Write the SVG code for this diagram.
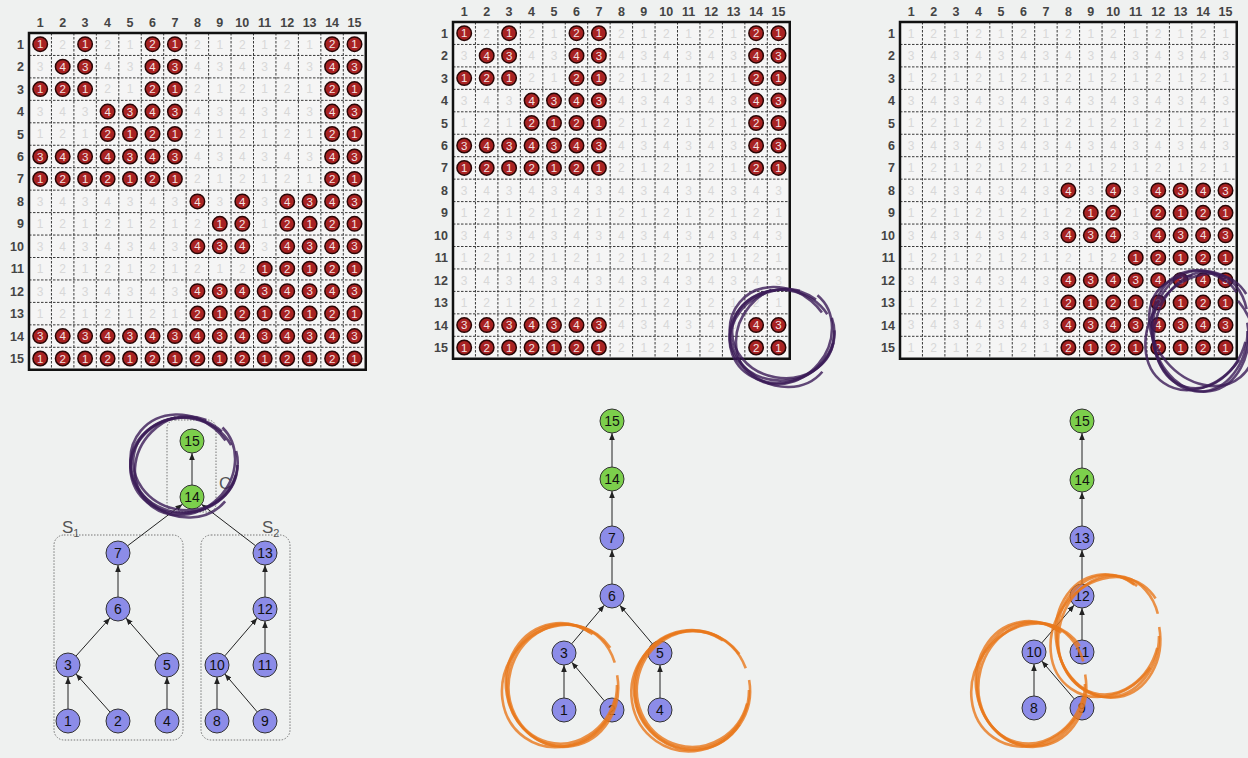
<svg xmlns="http://www.w3.org/2000/svg" xmlns:xlink="http://www.w3.org/1999/xlink" width="1248" height="758" viewBox="0 0 1248 758">
<style>
.gn{font-family:"Liberation Sans",Arial,sans-serif;font-size:12px;fill:#d8d8d8;text-anchor:middle}
.lb{font-family:"Liberation Sans",Arial,sans-serif;font-size:12.5px;font-weight:bold;fill:#444}
.wn{font-family:"Liberation Sans",Arial,sans-serif;font-size:11.5px;fill:#f4e2e2;text-anchor:middle}
.gd{fill:none;stroke:#3a3a3a;stroke-width:1;stroke-dasharray:2.5 1.5}
.bd{fill:none;stroke:#111;stroke-width:2.5}
.dk{fill:none;stroke:#2a0606;stroke-width:16;stroke-linecap:round}
.dr{fill:none;stroke:#a82222;stroke-width:13;stroke-linecap:round}
.nd circle{stroke:#333;stroke-width:1}
.nd text{font-family:"Liberation Sans",Arial,sans-serif;font-size:14px;fill:#111;text-anchor:middle}
.pu circle{fill:#8c8ce8}
.gr circle{fill:#7ccf4c}
.ed line{stroke:#222;stroke-width:1;marker-end:url(#ar)}
.bx{fill:none;stroke:#777;stroke-width:1;stroke-dasharray:1.5 1.5}
.sl{font-family:"Liberation Sans",Arial,sans-serif;font-size:17px;fill:#555}
.sp ellipse{fill:none;stroke:#3b1b58;stroke-width:2.6;opacity:.8}
.so ellipse{fill:none;stroke:#e8781c;stroke-width:2.6;opacity:.8}
</style>
<defs>
<marker id="ar" viewBox="0 0 8 8" refX="8" refY="4" markerWidth="7" markerHeight="7" orient="auto" markerUnits="userSpaceOnUse"><path d="M0 0.8L8 4L0 7.2z" fill="#222"/></marker>
<g id="base">
<rect width="336.75" height="336.75" fill="#f5f5f5"/>
<g class="gn">
<text x="11.2 33.7 56.1 78.6 101 123.5 145.9 168.4 190.8 213.3 235.7 258.2 280.6 303.1 325.5" y="15.5">121212121212121</text>
<text x="11.2 33.7 56.1 78.6 101 123.5 145.9 168.4 190.8 213.3 235.7 258.2 280.6 303.1 325.5" y="38">343434343434343</text>
<text x="11.2 33.7 56.1 78.6 101 123.5 145.9 168.4 190.8 213.3 235.7 258.2 280.6 303.1 325.5" y="60.4">121212121212121</text>
<text x="11.2 33.7 56.1 78.6 101 123.5 145.9 168.4 190.8 213.3 235.7 258.2 280.6 303.1 325.5" y="82.9">343434343434343</text>
<text x="11.2 33.7 56.1 78.6 101 123.5 145.9 168.4 190.8 213.3 235.7 258.2 280.6 303.1 325.5" y="105.3">121212121212121</text>
<text x="11.2 33.7 56.1 78.6 101 123.5 145.9 168.4 190.8 213.3 235.7 258.2 280.6 303.1 325.5" y="127.8">343434343434343</text>
<text x="11.2 33.7 56.1 78.6 101 123.5 145.9 168.4 190.8 213.3 235.7 258.2 280.6 303.1 325.5" y="150.2">121212121212121</text>
<text x="11.2 33.7 56.1 78.6 101 123.5 145.9 168.4 190.8 213.3 235.7 258.2 280.6 303.1 325.5" y="172.7">343434343434343</text>
<text x="11.2 33.7 56.1 78.6 101 123.5 145.9 168.4 190.8 213.3 235.7 258.2 280.6 303.1 325.5" y="195.1">121212121212121</text>
<text x="11.2 33.7 56.1 78.6 101 123.5 145.9 168.4 190.8 213.3 235.7 258.2 280.6 303.1 325.5" y="217.6">343434343434343</text>
<text x="11.2 33.7 56.1 78.6 101 123.5 145.9 168.4 190.8 213.3 235.7 258.2 280.6 303.1 325.5" y="240">121212121212121</text>
<text x="11.2 33.7 56.1 78.6 101 123.5 145.9 168.4 190.8 213.3 235.7 258.2 280.6 303.1 325.5" y="262.5">343434343434343</text>
<text x="11.2 33.7 56.1 78.6 101 123.5 145.9 168.4 190.8 213.3 235.7 258.2 280.6 303.1 325.5" y="284.9">121212121212121</text>
<text x="11.2 33.7 56.1 78.6 101 123.5 145.9 168.4 190.8 213.3 235.7 258.2 280.6 303.1 325.5" y="307.4">343434343434343</text>
<text x="11.2 33.7 56.1 78.6 101 123.5 145.9 168.4 190.8 213.3 235.7 258.2 280.6 303.1 325.5" y="329.8">121212121212121</text>
</g>
<path class="gd" d="M22.45 0V336.75M44.9 0V336.75M67.35 0V336.75M89.8 0V336.75M112.25 0V336.75M134.7 0V336.75M157.15 0V336.75M179.6 0V336.75M202.05 0V336.75M224.5 0V336.75M246.95 0V336.75M269.4 0V336.75M291.85 0V336.75M314.3 0V336.75M0 22.45H336.75M0 44.9H336.75M0 67.35H336.75M0 89.8H336.75M0 112.25H336.75M0 134.7H336.75M0 157.15H336.75M0 179.6H336.75M0 202.05H336.75M0 224.5H336.75M0 246.95H336.75M0 269.4H336.75M0 291.85H336.75M0 314.3H336.75"/>
<rect class="bd" width="336.75" height="336.75"/>
<text class="lb" y="-6" text-anchor="middle"><tspan x="11.2">1</tspan><tspan x="33.7">2</tspan><tspan x="56.1">3</tspan><tspan x="78.6">4</tspan><tspan x="101">5</tspan><tspan x="123.5">6</tspan><tspan x="145.9">7</tspan><tspan x="168.4">8</tspan><tspan x="190.8">9</tspan><tspan x="213.3">10</tspan><tspan x="235.7">11</tspan><tspan x="258.2">12</tspan><tspan x="280.6">13</tspan><tspan x="303.1">14</tspan><tspan x="325.5">15</tspan></text>
<text class="lb" text-anchor="end"><tspan x="-5" y="15.7">1</tspan><tspan x="-5" y="38.2">2</tspan><tspan x="-5" y="60.6">3</tspan><tspan x="-5" y="83.1">4</tspan><tspan x="-5" y="105.5">5</tspan><tspan x="-5" y="128">6</tspan><tspan x="-5" y="150.4">7</tspan><tspan x="-5" y="172.9">8</tspan><tspan x="-5" y="195.3">9</tspan><tspan x="-5" y="217.8">10</tspan><tspan x="-5" y="240.2">11</tspan><tspan x="-5" y="262.7">12</tspan><tspan x="-5" y="285.1">13</tspan><tspan x="-5" y="307.6">14</tspan><tspan x="-5" y="330">15</tspan></text>
</g>
<path id="pA" d="M11.2 11.2h0M56.1 11.2h0M123.5 11.2h0M145.9 11.2h0M33.7 33.7h0M56.1 33.7h0M123.5 33.7h0M145.9 33.7h0M11.2 56.1h0M33.7 56.1h0M56.1 56.1h0M123.5 56.1h0M145.9 56.1h0M78.6 78.6h0M101 78.6h0M123.5 78.6h0M145.9 78.6h0M78.6 101h0M101 101h0M123.5 101h0M145.9 101h0M11.2 123.5h0M33.7 123.5h0M56.1 123.5h0M78.6 123.5h0M101 123.5h0M123.5 123.5h0M145.9 123.5h0M11.2 145.9h0M33.7 145.9h0M56.1 145.9h0M78.6 145.9h0M101 145.9h0M123.5 145.9h0M145.9 145.9h0"/>
<path id="pB" d="M303.1 11.2h0M325.5 11.2h0M303.1 33.7h0M325.5 33.7h0M303.1 56.1h0M325.5 56.1h0M303.1 78.6h0M325.5 78.6h0M303.1 101h0M325.5 101h0M303.1 123.5h0M325.5 123.5h0M303.1 145.9h0M325.5 145.9h0"/>
<path id="pC" d="M11.2 303.1h0M33.7 303.1h0M56.1 303.1h0M78.6 303.1h0M101 303.1h0M123.5 303.1h0M145.9 303.1h0M11.2 325.5h0M33.7 325.5h0M56.1 325.5h0M78.6 325.5h0M101 325.5h0M123.5 325.5h0M145.9 325.5h0"/>
<path id="pD" d="M303.1 303.1h0M325.5 303.1h0M303.1 325.5h0M325.5 325.5h0"/>
<path id="pE" d="M168.4 168.4h0M213.3 168.4h0M258.2 168.4h0M280.6 168.4h0M303.1 168.4h0M325.5 168.4h0M190.8 190.8h0M213.3 190.8h0M258.2 190.8h0M280.6 190.8h0M303.1 190.8h0M325.5 190.8h0M168.4 213.3h0M190.8 213.3h0M213.3 213.3h0M258.2 213.3h0M280.6 213.3h0M303.1 213.3h0M325.5 213.3h0M235.7 235.7h0M258.2 235.7h0M280.6 235.7h0M303.1 235.7h0M325.5 235.7h0M168.4 258.2h0M190.8 258.2h0M213.3 258.2h0M235.7 258.2h0M258.2 258.2h0M280.6 258.2h0M303.1 258.2h0M325.5 258.2h0M168.4 280.6h0M190.8 280.6h0M213.3 280.6h0M235.7 280.6h0M258.2 280.6h0M280.6 280.6h0M303.1 280.6h0M325.5 280.6h0"/>
<path id="pF" d="M168.4 303.1h0M190.8 303.1h0M213.3 303.1h0M235.7 303.1h0M258.2 303.1h0M280.6 303.1h0M168.4 325.5h0M190.8 325.5h0M213.3 325.5h0M235.7 325.5h0M258.2 325.5h0M280.6 325.5h0"/>
<g id="bA"><use href="#pA" class="dk"/><use href="#pA" class="dr"/>
<g class="wn">
<text x="11.2 56.1 123.5 145.9" y="15.3">1121</text>
<text x="33.7 56.1 123.5 145.9" y="37.8">4343</text>
<text x="11.2 33.7 56.1 123.5 145.9" y="60.2">12121</text>
<text x="78.6 101 123.5 145.9" y="82.7">4343</text>
<text x="78.6 101 123.5 145.9" y="105.1">2121</text>
<text x="11.2 33.7 56.1 78.6 101 123.5 145.9" y="127.6">3434343</text>
<text x="11.2 33.7 56.1 78.6 101 123.5 145.9" y="150">1212121</text>
</g></g>
<g id="bB"><use href="#pB" class="dk"/><use href="#pB" class="dr"/>
<g class="wn">
<text x="303.1 325.5" y="15.3">21</text>
<text x="303.1 325.5" y="37.8">43</text>
<text x="303.1 325.5" y="60.2">21</text>
<text x="303.1 325.5" y="82.7">43</text>
<text x="303.1 325.5" y="105.1">21</text>
<text x="303.1 325.5" y="127.6">43</text>
<text x="303.1 325.5" y="150">21</text>
</g></g>
<g id="bC"><use href="#pC" class="dk"/><use href="#pC" class="dr"/>
<g class="wn">
<text x="11.2 33.7 56.1 78.6 101 123.5 145.9" y="307.2">3434343</text>
<text x="11.2 33.7 56.1 78.6 101 123.5 145.9" y="329.6">1212121</text>
</g></g>
<g id="bD"><use href="#pD" class="dk"/><use href="#pD" class="dr"/>
<g class="wn">
<text x="303.1 325.5" y="307.2">43</text>
<text x="303.1 325.5" y="329.6">21</text>
</g></g>
<g id="bE"><use href="#pE" class="dk"/><use href="#pE" class="dr"/>
<g class="wn">
<text x="168.4 213.3 258.2 280.6 303.1 325.5" y="172.5">444343</text>
<text x="190.8 213.3 258.2 280.6 303.1 325.5" y="194.9">122121</text>
<text x="168.4 190.8 213.3 258.2 280.6 303.1 325.5" y="217.4">4344343</text>
<text x="235.7 258.2 280.6 303.1 325.5" y="239.8">12121</text>
<text x="168.4 190.8 213.3 235.7 258.2 280.6 303.1 325.5" y="262.3">43434343</text>
<text x="168.4 190.8 213.3 235.7 258.2 280.6 303.1 325.5" y="284.7">21212121</text>
</g></g>
<g id="bF"><use href="#pF" class="dk"/><use href="#pF" class="dr"/>
<g class="wn">
<text x="168.4 190.8 213.3 235.7 258.2 280.6" y="307.2">434343</text>
<text x="168.4 190.8 213.3 235.7 258.2 280.6" y="329.6">212121</text>
</g></g>
</defs>
<rect width="1248" height="758" fill="#eff1f0"/>

<g id="matrix1" transform="translate(29 33)">
<use href="#base"/><use href="#bA"/><use href="#bB"/><use href="#bC"/><use href="#bD"/><use href="#bE"/><use href="#bF"/>
</g>
<g id="matrix2" transform="translate(453 22)">
<use href="#base"/><use href="#bA"/><use href="#bB"/><use href="#bC"/><use href="#bD"/>
</g>
<g id="matrix3" transform="translate(900 22)">
<use href="#base"/><use href="#bD"/><use href="#bE"/><use href="#bF"/>
</g>

<g id="clusters">
<rect class="bx" x="54" y="535" width="129" height="205" rx="10"/>
<rect class="bx" x="201" y="535" width="89" height="205" rx="10"/>
<rect class="bx" x="167" y="420" width="49" height="92" rx="8"/>
<text class="sl" x="62" y="533">S<tspan font-size="11" dy="4">1</tspan></text>
<text class="sl" x="262" y="533">S<tspan font-size="11" dy="4">2</tspan></text>
<text class="sl" x="219" y="489">C</text>
</g>

<g id="connectors" class="ed">
<line x1="192" y1="485" x2="192" y2="453"/>
<line x1="127.6" y1="545.8" x2="182.4" y2="504.2"/>
<line x1="255.5" y1="545.7" x2="201.5" y2="504.3"/>
<line x1="118" y1="597" x2="118" y2="565"/>
<line x1="265" y1="597" x2="265" y2="565"/>
<line x1="76" y1="656" x2="110" y2="618"/>
<line x1="159.1" y1="656" x2="125.9" y2="618"/>
<line x1="224.8" y1="655.9" x2="257.2" y2="618.1"/>
<line x1="265" y1="653" x2="265" y2="621"/>
<line x1="68" y1="709" x2="68" y2="677"/>
<line x1="110" y1="712" x2="76" y2="674"/>
<line x1="167" y1="709" x2="167" y2="677"/>
<line x1="217" y1="709" x2="217" y2="677"/>
<line x1="257.2" y1="711.9" x2="224.8" y2="673.9"/>

<line x1="612" y1="467" x2="612" y2="433"/>
<line x1="612" y1="526" x2="612" y2="491"/>
<line x1="612" y1="584" x2="612" y2="550"/>
<line x1="571.7" y1="643.8" x2="604.3" y2="605.2"/>
<line x1="652.3" y1="643.8" x2="619.7" y2="605.2"/>
<line x1="564" y1="698" x2="564" y2="665"/>
<line x1="604.3" y1="700.8" x2="571.7" y2="662.2"/>
<line x1="660" y1="698" x2="660" y2="665"/>

<line x1="1082" y1="468" x2="1082" y2="433"/>
<line x1="1082" y1="526" x2="1082" y2="492"/>
<line x1="1082" y1="584" x2="1082" y2="550"/>
<line x1="1041.8" y1="642.9" x2="1074.2" y2="605.1"/>
<line x1="1082" y1="640" x2="1082" y2="608"/>
<line x1="1034" y1="696" x2="1034" y2="664"/>
<line x1="1074.2" y1="698.9" x2="1041.8" y2="661.1"/>
</g>

<g id="g1-15" class="nd gr"><circle cx="192" cy="441" r="12"/><text x="192" y="446">15</text></g>
<g id="g1-14" class="nd gr"><circle cx="192" cy="497" r="12"/><text x="192" y="502">14</text></g>
<g id="g1-7" class="nd pu"><circle cx="118" cy="553" r="12"/><text x="118" y="558">7</text></g>
<g id="g1-13" class="nd pu"><circle cx="265" cy="553" r="12"/><text x="265" y="558">13</text></g>
<g id="g1-6" class="nd pu"><circle cx="118" cy="609" r="12"/><text x="118" y="614">6</text></g>
<g id="g1-12" class="nd pu"><circle cx="265" cy="609" r="12"/><text x="265" y="614">12</text></g>
<g id="g1-3" class="nd pu"><circle cx="68" cy="665" r="12"/><text x="68" y="670">3</text></g>
<g id="g1-5" class="nd pu"><circle cx="167" cy="665" r="12"/><text x="167" y="670">5</text></g>
<g id="g1-10" class="nd pu"><circle cx="217" cy="665" r="12"/><text x="217" y="670">10</text></g>
<g id="g1-11" class="nd pu"><circle cx="265" cy="665" r="12"/><text x="265" y="670">11</text></g>
<g id="g1-1" class="nd pu"><circle cx="68" cy="721" r="12"/><text x="68" y="726">1</text></g>
<g id="g1-2" class="nd pu"><circle cx="118" cy="721" r="12"/><text x="118" y="726">2</text></g>
<g id="g1-4" class="nd pu"><circle cx="167" cy="721" r="12"/><text x="167" y="726">4</text></g>
<g id="g1-8" class="nd pu"><circle cx="217" cy="721" r="12"/><text x="217" y="726">8</text></g>
<g id="g1-9" class="nd pu"><circle cx="265" cy="721" r="12"/><text x="265" y="726">9</text></g>

<g id="g2-15" class="nd gr"><circle cx="612" cy="421" r="12"/><text x="612" y="426">15</text></g>
<g id="g2-14" class="nd gr"><circle cx="612" cy="479" r="12"/><text x="612" y="484">14</text></g>
<g id="g2-7" class="nd pu"><circle cx="612" cy="538" r="12"/><text x="612" y="543">7</text></g>
<g id="g2-6" class="nd pu"><circle cx="612" cy="596" r="12"/><text x="612" y="601">6</text></g>
<g id="g2-3" class="nd pu"><circle cx="564" cy="653" r="12"/><text x="564" y="658">3</text></g>
<g id="g2-5" class="nd pu"><circle cx="660" cy="653" r="12"/><text x="660" y="658">5</text></g>
<g id="g2-1" class="nd pu"><circle cx="564" cy="710" r="12"/><text x="564" y="715">1</text></g>
<g id="g2-2" class="nd pu"><circle cx="612" cy="710" r="12"/><text x="612" y="715">2</text></g>
<g id="g2-4" class="nd pu"><circle cx="660" cy="710" r="12"/><text x="660" y="715">4</text></g>

<g id="g3-15" class="nd gr"><circle cx="1082" cy="421" r="12"/><text x="1082" y="426">15</text></g>
<g id="g3-14" class="nd gr"><circle cx="1082" cy="480" r="12"/><text x="1082" y="485">14</text></g>
<g id="g3-13" class="nd pu"><circle cx="1082" cy="538" r="12"/><text x="1082" y="543">13</text></g>
<g id="g3-12" class="nd pu"><circle cx="1082" cy="596" r="12"/><text x="1082" y="601">12</text></g>
<g id="g3-10" class="nd pu"><circle cx="1034" cy="652" r="12"/><text x="1034" y="657">10</text></g>
<g id="g3-11" class="nd pu"><circle cx="1082" cy="652" r="12"/><text x="1082" y="657">11</text></g>
<g id="g3-8" class="nd pu"><circle cx="1034" cy="708" r="12"/><text x="1034" y="713">8</text></g>
<g id="g3-9" class="nd pu"><circle cx="1082" cy="708" r="12"/><text x="1082" y="713">9</text></g>

<g id="scribbles">
<g class="sp">
<ellipse cx="782" cy="336" rx="53" ry="46" pathLength="100" stroke-dasharray="86 14" transform="rotate(-20 782 336)"/>
<ellipse cx="783" cy="334" rx="51" ry="44" pathLength="100" stroke-dasharray="90 10" transform="rotate(10 783 334)"/>
<ellipse cx="781" cy="337" rx="54" ry="47" pathLength="100" stroke-dasharray="80 20" transform="rotate(40 781 337)"/>
<ellipse cx="784" cy="335" rx="52" ry="45" pathLength="100" stroke-dasharray="84 16" transform="rotate(-50 784 335)"/>
<ellipse cx="782" cy="335" rx="52.5" ry="45.5" pathLength="100" stroke-dasharray="88 12" transform="rotate(-5 782 335)"/>
<ellipse cx="1200" cy="331" rx="48" ry="61" pathLength="100" stroke-dasharray="86 14" transform="rotate(-10 1200 331)"/>
<ellipse cx="1201" cy="330" rx="46" ry="59" pathLength="100" stroke-dasharray="90 10" transform="rotate(15 1201 330)"/>
<ellipse cx="1199" cy="332" rx="49" ry="62" pathLength="100" stroke-dasharray="80 20" transform="rotate(35 1199 332)"/>
<ellipse cx="1202" cy="331" rx="47" ry="60" pathLength="100" stroke-dasharray="84 16" transform="rotate(-40 1202 331)"/>
<ellipse cx="1200" cy="331" rx="47.5" ry="60.5" pathLength="100" stroke-dasharray="88 12" transform="rotate(0 1200 331)"/>
<ellipse cx="184" cy="465" rx="54" ry="48" pathLength="100" stroke-dasharray="86 14" transform="rotate(-15 184 465)"/>
<ellipse cx="185" cy="464" rx="52" ry="46" pathLength="100" stroke-dasharray="90 10" transform="rotate(12 185 464)"/>
<ellipse cx="183" cy="466" rx="55" ry="49" pathLength="100" stroke-dasharray="80 20" transform="rotate(40 183 466)"/>
<ellipse cx="185" cy="465" rx="53" ry="47" pathLength="100" stroke-dasharray="84 16" transform="rotate(-45 185 465)"/>
<ellipse cx="184" cy="465" rx="53.5" ry="47.5" pathLength="100" stroke-dasharray="88 12" transform="rotate(0 184 465)"/>
</g>
<g class="so">
<ellipse cx="562" cy="685" rx="56" ry="62" pathLength="100" stroke-dasharray="86 14" transform="rotate(-10 562 685)"/>
<ellipse cx="563" cy="684" rx="54" ry="60" pathLength="100" stroke-dasharray="90 10" transform="rotate(15 563 684)"/>
<ellipse cx="561" cy="686" rx="57" ry="63" pathLength="100" stroke-dasharray="80 20" transform="rotate(35 561 686)"/>
<ellipse cx="562" cy="685" rx="55" ry="61" pathLength="100" stroke-dasharray="84 16" transform="rotate(0 562 685)"/>
<ellipse cx="692" cy="690" rx="58" ry="60" pathLength="100" stroke-dasharray="86 14" transform="rotate(-10 692 690)"/>
<ellipse cx="693" cy="689" rx="56" ry="58" pathLength="100" stroke-dasharray="90 10" transform="rotate(15 693 689)"/>
<ellipse cx="691" cy="691" rx="59" ry="61" pathLength="100" stroke-dasharray="80 20" transform="rotate(35 691 691)"/>
<ellipse cx="692" cy="690" rx="57" ry="59" pathLength="100" stroke-dasharray="84 16" transform="rotate(0 692 690)"/>
<ellipse cx="1031" cy="684" rx="55" ry="63" pathLength="100" stroke-dasharray="86 14" transform="rotate(-10 1031 684)"/>
<ellipse cx="1032" cy="683" rx="53" ry="61" pathLength="100" stroke-dasharray="90 10" transform="rotate(15 1032 683)"/>
<ellipse cx="1030" cy="685" rx="56" ry="64" pathLength="100" stroke-dasharray="80 20" transform="rotate(35 1030 685)"/>
<ellipse cx="1031" cy="684" rx="54" ry="62" pathLength="100" stroke-dasharray="84 16" transform="rotate(0 1031 684)"/>
<ellipse cx="1108" cy="636" rx="52" ry="62" pathLength="100" stroke-dasharray="86 14" transform="rotate(-10 1108 636)"/>
<ellipse cx="1109" cy="635" rx="50" ry="60" pathLength="100" stroke-dasharray="90 10" transform="rotate(15 1109 635)"/>
<ellipse cx="1107" cy="637" rx="53" ry="63" pathLength="100" stroke-dasharray="80 20" transform="rotate(35 1107 637)"/>
<ellipse cx="1108" cy="636" rx="51" ry="61" pathLength="100" stroke-dasharray="84 16" transform="rotate(0 1108 636)"/>
</g>
</g>
</svg>
